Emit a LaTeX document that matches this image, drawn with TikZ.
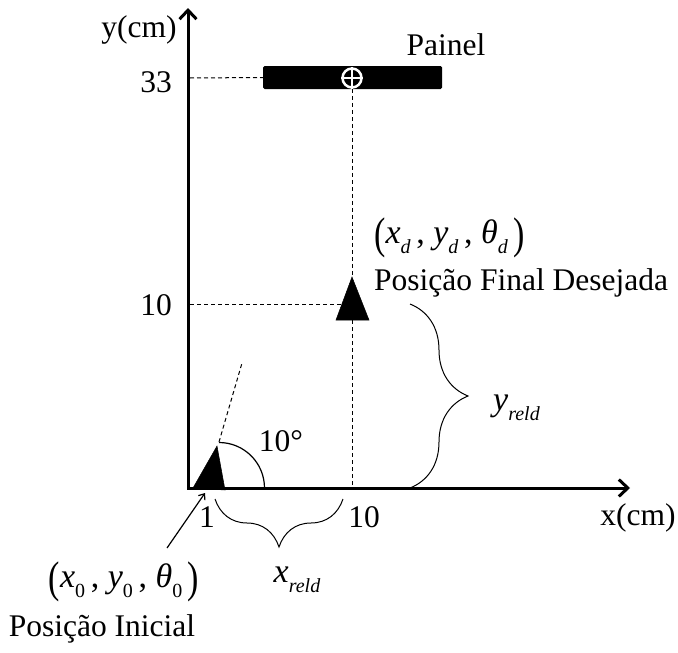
\documentclass[tikz,border=0pt]{standalone}
\usepackage{fontspec}
\usepackage{graphicx}
\setmainfont{Liberation Serif}
\usetikzlibrary{arrows.meta,decorations.pathreplacing}
\newcommand{\smallsub}[1]{\raisebox{-0.28em}{\fontsize{20}{20}\selectfont #1}}
\newcommand{\bigparen}[1]{\raisebox{-0.14em}{\scalebox{1}[1.3]{#1}}}
\begin{document}
\begin{tikzpicture}[x=1pt,y=-1pt,
  axis/.style={line width=3pt,line cap=rect,-{Straight Barb[length=9pt,width=17pt]}},
  guide/.style={line width=1pt,dash pattern=on 4pt off 3pt},
  lbl/.style={font=\fontsize{31.5}{34}\selectfont,inner sep=0pt},
  mathlbl/.style={font=\fontsize{34}{36}\selectfont,inner sep=0pt},
  bracestyle/.style={line width=1pt,decorate,decoration={brace,amplitude=#1}},
  robot/.style={fill=black,draw=black,line width=0.5pt,line join=miter},
  thin/.style={line width=1.2pt}]
\useasboundingbox (0,0) rectangle (678,653);

% axes
\coordinate (O) at (188,488);
\coordinate (Xend) at (630,488);
\coordinate (Yend) at (188,8);
\draw[axis] (O) -- (Xend);
\draw[axis] (O) -- (Yend);
\node[lbl] (xlab) at (638,518) {x(cm)};
\node[lbl] (ylab) at (139,30) {y(cm)};

% tick labels
\node[lbl] (t33) at (156,82) {33};
\node[lbl] (t10y) at (156,305) {10};
\node[lbl] (t1) at (207,517) {1};
\node[lbl] (t10x) at (364,517) {10};

% panel
\node[fill=black,rounded corners=1.5pt,minimum width=179pt,minimum height=23pt,inner sep=0pt] (panel) at (352.5,77.5) {};
\node[circle,draw=white,line width=2.5pt,minimum size=19pt,inner sep=0pt] (tgt) at (352,78) {};
\draw[white,line width=1.8pt] (tgt.north) -- (tgt.south) (tgt.west) -- (tgt.east);
\node[lbl] (painel) at (446,45) {Painel};

% guides
\coordinate (Y33) at (190,78);
\coordinate (Y10) at (190,304);
\coordinate (F10) at (342,304);
\coordinate (fa) at (352,277);
\coordinate (fb) at (352,320);
\coordinate (X10) at (352,487);
\draw[guide] (Y33) -- (panel.west);
\draw[guide] (tgt.south) -- (fa);
\draw[guide] (fb) -- (X10);
\draw[guide] (Y10) -- (F10);

% final robot
\filldraw[robot] (fa) -- (369,320) -- (336,320) -- cycle;
\node[mathlbl,anchor=west] (xd) at (374,238) {\bigparen{(}\textit{x}\smallsub{\textit{d}}\,, \textit{y}\smallsub{\textit{d}}\,, \textit{θ}\smallsub{\textit{d}}\,\bigparen{)}};
\node[lbl,anchor=west] (fdes) at (374,283) {Posição Final Desejada};

% initial robot
\coordinate (ia) at (217,446);
\coordinate (dtop) at (242,363);
\filldraw[robot] (ia) -- (225,490) -- (193,488) -- cycle;
\draw[guide] (219,442) -- (dtop);
\draw[thin] (264.5,488) arc[start angle=0,end angle=-90,radius=45.5];
\node[lbl] (deg) at (281,441) {10°};

% braces
\draw[bracestyle=58pt] (410,304) -- (410,488);
\node[mathlbl,anchor=west] (yreld) at (493,408) {\textit{y}\smallsub{\textit{reld}}};
\draw[bracestyle=48pt] (343,499) -- (215,499);
\node[mathlbl] (xreld) at (297,580) {\textit{x}\smallsub{\textit{reld}}};

% initial label
\coordinate (astart) at (167,548);
\coordinate (aend) at (205,493);
\draw[thin,-{Straight Barb[length=5pt,width=8pt]}] (astart) -- (aend);
\node[mathlbl] (x0) at (124,582) {\bigparen{(}\textit{x}\smallsub{0}\,, \textit{y}\smallsub{0}\,, \textit{θ}\smallsub{0}\,\bigparen{)}};
\node[lbl] (pini) at (102,629) {Posição Inicial};
\end{tikzpicture}
\end{document}
